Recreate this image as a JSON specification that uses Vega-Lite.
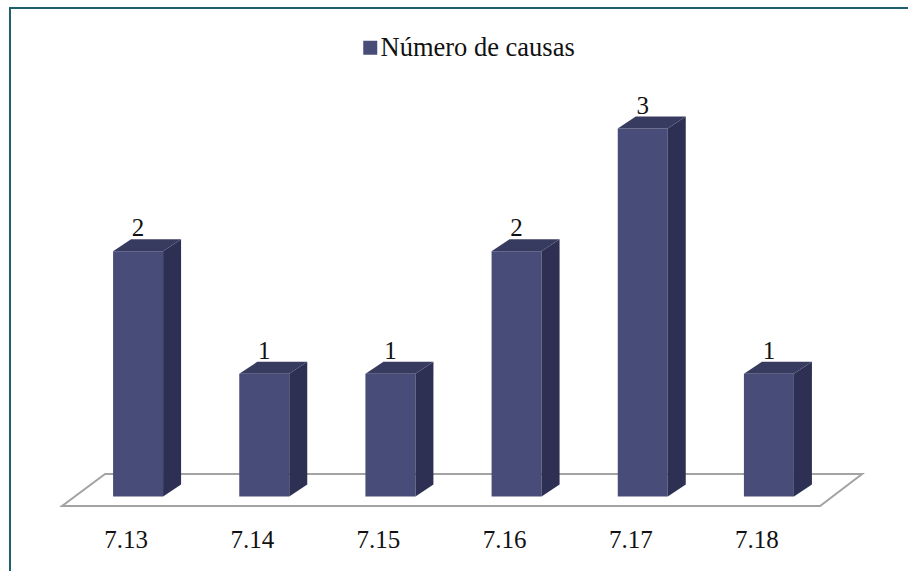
{"$schema":"https://vega.github.io/schema/vega-lite/v6.json","width":920,"height":580,"autosize":"none","padding":{"left":10,"top":8,"right":0,"bottom":0},"background":"white","view":{"stroke":"#1f5f6e","strokeWidth":2,"fill":"white"},"data":{"values":[{"causa":"7.13","causas":2,"serie":"Número de causas"},{"causa":"7.14","causas":1,"serie":"Número de causas"},{"causa":"7.15","causas":1,"serie":"Número de causas"},{"causa":"7.16","causas":2,"serie":"Número de causas"},{"causa":"7.17","causas":3,"serie":"Número de causas"},{"causa":"7.18","causas":1,"serie":"Número de causas"}]},"encoding":{"x":{"field":"causa","type":"nominal","sort":null,"scale":{"type":"band","range":[65,822],"padding":0,"round":false},"axis":{"title":null,"orient":"bottom","offset":-61,"domain":false,"ticks":false,"labelAngle":0,"labelFont":"Liberation Serif","labelFontSize":25,"labelColor":"#111111","labelOffset":-12,"labelPadding":0,"grid":false}},"y":{"field":"causas","type":"quantitative","scale":{"domain":[0,3],"range":[488.5,120.5],"nice":false},"axis":null}},"layer":[{"transform":[{"filter":{"field":"causa","equal":"7.13"}}],"mark":{"type":"point","filled":false,"stroke":"#a3a3a3","strokeWidth":2,"opacity":1,"size":4,"shape":"M-76,9.5L682,9.5L724,-22.5L-33,-22.5Z"},"encoding":{"y":{"datum":0,"type":"quantitative"}}},{"mark":{"type":"bar","width":50,"stroke":null},"encoding":{"y":{"field":"causas","type":"quantitative"},"y2":{"datum":0},"color":{"field":"serie","type":"nominal","scale":{"range":["#484c78"]},"legend":{"title":null,"orient":"none","legendX":347,"legendY":26.5,"symbolType":"square","symbolSize":196,"symbolStrokeWidth":0,"labelFont":"Liberation Serif","labelFontSize":26.5,"labelColor":"#111111","labelLimit":400,"labelOffset":-3,"padding":0}}}},{"mark":{"type":"point","filled":true,"opacity":1,"size":4,"stroke":null},"encoding":{"color":{"value":"#2d3052"},"shape":{"field":"causas","type":"nominal","legend":null,"scale":{"domain":[1,2,3],"range":["M25,0L43,-12L43,110.7L25,122.7Z","M25,0L43,-12L43,233.3L25,245.3Z","M25,0L43,-12L43,356L25,368Z"]}}}},{"mark":{"type":"point","filled":true,"opacity":1,"size":4,"stroke":null,"color":"#383b60","shape":"M-25,0L-7,-12L43,-12L25,0Z"}},{"mark":{"type":"text","font":"Liberation Serif","fontSize":25,"color":"#111111","dy":-15,"baseline":"alphabetic"},"encoding":{"text":{"field":"causas","type":"quantitative"}}}]}
